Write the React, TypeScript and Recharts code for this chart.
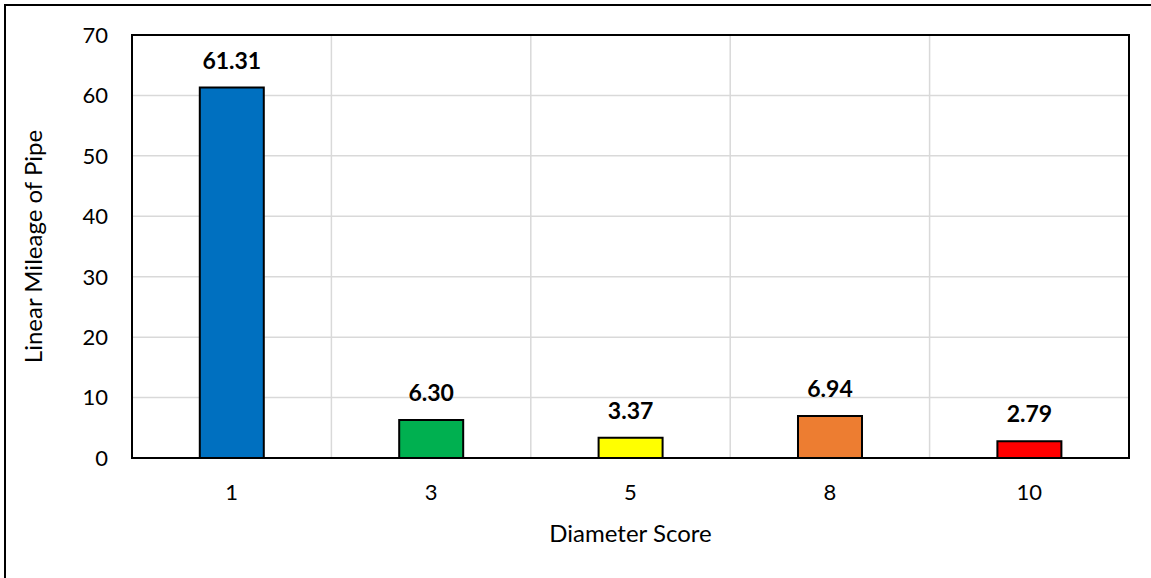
import React from 'react';
import {
  BarChart, Bar, XAxis, YAxis, CartesianGrid, Cell, LabelList, ReferenceArea,
} from 'recharts';

// Diameter score categories and linear mileage per score
const scores = ['1', '3', '5', '8', '10'];
const mileage = [61.31, 6.3, 3.37, 6.94, 2.79];
const barColors = ['#0070C0', '#00B050', '#FFFF00', '#ED7D31', '#FF0000'];
const yTicks = [0, 10, 20, 30, 40, 50, 60, 70];

const data = scores.map((score, i) => ({ score, value: mileage[i] }));

const FONT = 'Lato, "Open Sans", sans-serif';

// rotated y axis title, centred on the plot height
const YTitle = ({ viewBox }: any) => {
  const cx = 32;
  const cy = viewBox.y + viewBox.height / 2;
  return (
    <text
      x={cx}
      y={cy}
      transform={`rotate(-90, ${cx}, ${cy})`}
      textAnchor="middle"
      dominantBaseline="central"
      fill="#000"
      fontSize={24}
      fontFamily={FONT}
    >
      Linear Mileage of Pipe
    </text>
  );
};

export default function App() {
  // vertical grid lines sit between categories, not on them
  const boundaryLines = ({ offset }: any) => {
    const lines: number[] = [];
    for (let i = 1; i < scores.length; i++) {
      lines.push(offset.left + (offset.width * i) / scores.length);
    }
    return lines;
  };

  return (
    <div style={{ position: 'absolute', left: 0, top: 0, width: 1151, height: 578, background: '#fff', fontFamily: FONT }}>
      <div
        style={{
          position: 'absolute', left: 4, top: 4, right: 0, bottom: 0,
          borderLeft: '2px solid #000', borderTop: '2px solid #000',
        }}
      />
      <div style={{ position: 'absolute', left: 0, top: 0 }}>
        <BarChart
          width={1151}
          height={578}
          data={data}
          margin={{ top: 35, right: 22, left: 72, bottom: 60 }}
          barCategoryGap="34%"
        >
          <CartesianGrid
            stroke="#d9d9d9"
            strokeWidth={1.5}
            verticalCoordinatesGenerator={boundaryLines}
          />
          <XAxis
            dataKey="score"
            height={60}
            tickSize={0}
            tickMargin={26}
            axisLine={{ stroke: '#000', strokeWidth: 2 }}
            tick={{ fill: '#000', fontSize: 22, fontFamily: FONT }}
            label={{ value: 'Diameter Score', position: 'insideBottom', offset: -24, fill: '#000', fontSize: 24, fontFamily: FONT }}
          />
          <YAxis
            width={60}
            domain={[0, 70]}
            ticks={yTicks}
            tickSize={0}
            tickMargin={24}
            axisLine={{ stroke: '#000', strokeWidth: 2 }}
            tick={{ fill: '#000', fontSize: 22, fontFamily: FONT }}
            label={<YTitle />}
          />
          <ReferenceArea y1={0} y2={70} fill="none" stroke="#000" strokeWidth={2} ifOverflow="visible" />
          <Bar dataKey="value" stroke="#000" strokeWidth={2} isAnimationActive={false}>
            {data.map((d, i) => (
              <Cell key={d.score} fill={barColors[i]} />
            ))}
            <LabelList
              dataKey="value"
              position="top"
              offset={19}
              formatter={(v: any) => Number(v).toFixed(2)}
              style={{ fill: '#000', fontSize: 23, fontWeight: 700, fontFamily: FONT }}
            />
          </Bar>
        </BarChart>
      </div>
    </div>
  );
}
